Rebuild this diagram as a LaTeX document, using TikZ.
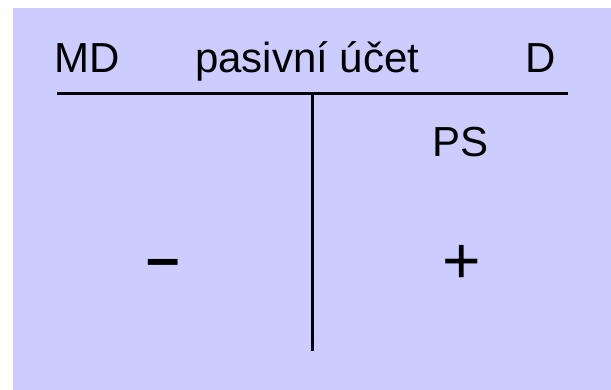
\documentclass[tikz,border=0pt]{standalone}
\usepackage{fontspec}
\setmainfont{Liberation Sans}
\definecolor{bgcol}{HTML}{CCCCFF}
\begin{document}
\begin{tikzpicture}[x=1pt,y=-1pt,
  lbl/.style={inner sep=0pt,anchor=base west,font=\fontsize{42}{48}\selectfont},
  sign/.style={inner sep=0pt,anchor=base,font=\fontsize{66}{72}\selectfont},
  rule/.style={line width=3pt}]
\useasboundingbox (0,0) rectangle (611,390);
\fill[white] (0,0) rectangle (611,390);
\fill[bgcol] (13,8) rectangle (611,390);
\node[lbl] (md) at (54,73) {MD};
\node[lbl] (title) at (195,73) {pasivní účet};
\node[lbl] (d) at (525,73) {D};
\node[lbl] (ps) at (432,157) {PS};
\coordinate (hl) at (57,94);
\coordinate (hr) at (568,94);
\coordinate (vt) at (312,94);
\coordinate (vb) at (312,351);
\draw[rule] (hl) -- (hr);
\draw[rule] (vt) -- (vb);
\node[sign,font=\fontsize{60}{66}\selectfont\bfseries] (minus) at (163.5,279) {–};
\node[sign] (plus) at (461.5,283.5) {+};
\end{tikzpicture}
\end{document}
